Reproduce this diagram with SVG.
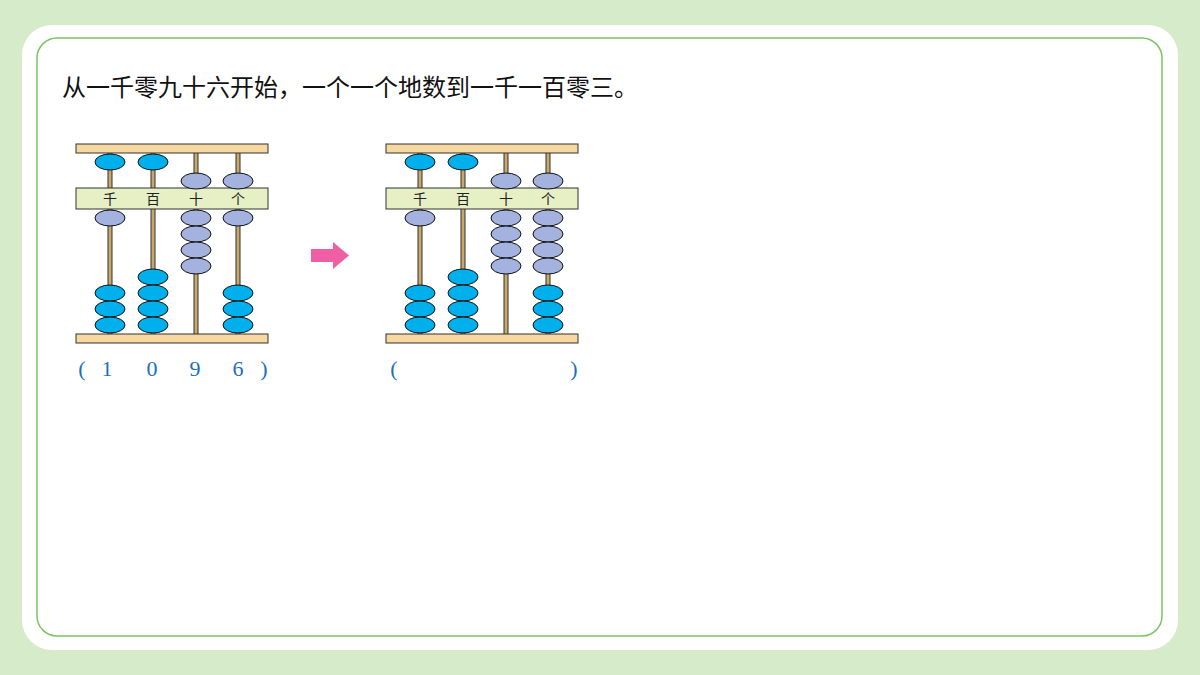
<svg xmlns="http://www.w3.org/2000/svg" width="1200" height="675" viewBox="0 0 1200 675">
<style>
.bar{fill:#f6d8a0;stroke:#333;stroke-width:1}
.lab{fill:#e6f0c4;stroke:#333;stroke-width:1}
.rod{stroke:#c9a868;stroke-width:3}
.rodo{stroke:#333;stroke-width:5}
.b{fill:#00b0ec;stroke:#111;stroke-width:1}
.g{fill:#a3b2de;stroke:#111;stroke-width:1}
.t{font-family:"Noto Sans CJK SC",sans-serif;font-size:14px;fill:#222;text-anchor:middle}
.n{font-family:"Liberation Serif",serif;font-size:22px;fill:#1a6fc0;text-anchor:middle}
</style>
<defs>
<g id="frame">
<g class="rodsg">
<line class="rodo" x1="34" y1="148" x2="34" y2="338"/><line class="rod" x1="34" y1="148" x2="34" y2="338"/>
<line class="rodo" x1="77" y1="148" x2="77" y2="338"/><line class="rod" x1="77" y1="148" x2="77" y2="338"/>
<line class="rodo" x1="120" y1="148" x2="120" y2="338"/><line class="rod" x1="120" y1="148" x2="120" y2="338"/>
<line class="rodo" x1="162" y1="148" x2="162" y2="338"/><line class="rod" x1="162" y1="148" x2="162" y2="338"/>
</g>
<rect class="bar" x="0" y="144" width="192" height="9"/>
<rect class="bar" x="0" y="334" width="192" height="9"/>
<rect class="lab" x="0" y="188" width="192" height="21"/>
<text class="t" x="34" y="204">千</text><text class="t" x="77" y="204">百</text><text class="t" x="120" y="204">十</text><text class="t" x="162" y="204">个</text>
</g>
</defs>
<rect width="1200" height="675" fill="#d5ebc9"/>
<rect x="22" y="25" width="1156" height="625" rx="30" fill="#fff"/>
<rect x="37" y="38" width="1125" height="598" rx="20" fill="none" stroke="#7cc463" stroke-width="1.5"/>
<text x="62" y="96" font-family="Noto Sans CJK SC,sans-serif" font-size="24" fill="#111">从一千零九十六开始，一个一个地数到一千一百零三。</text>
<g id="abacus1" transform="translate(76,0)">
<use href="#frame"/>
<ellipse class="b" cx="34" cy="162" rx="15" ry="8"/><ellipse class="b" cx="77" cy="162" rx="15" ry="8"/>
<ellipse class="g" cx="120" cy="181" rx="15" ry="8"/><ellipse class="g" cx="162" cy="181" rx="15" ry="8"/>
<ellipse class="g" cx="34" cy="218" rx="15" ry="8"/>
<ellipse class="b" cx="34" cy="293" rx="15" ry="8"/><ellipse class="b" cx="34" cy="309" rx="15" ry="8"/><ellipse class="b" cx="34" cy="325" rx="15" ry="8"/>
<ellipse class="b" cx="77" cy="277" rx="15" ry="8"/><ellipse class="b" cx="77" cy="293" rx="15" ry="8"/><ellipse class="b" cx="77" cy="309" rx="15" ry="8"/><ellipse class="b" cx="77" cy="325" rx="15" ry="8"/>
<ellipse class="g" cx="120" cy="218" rx="15" ry="8"/><ellipse class="g" cx="120" cy="234" rx="15" ry="8"/><ellipse class="g" cx="120" cy="250" rx="15" ry="8"/><ellipse class="g" cx="120" cy="266" rx="15" ry="8"/>
<ellipse class="g" cx="162" cy="218" rx="15" ry="8"/>
<ellipse class="b" cx="162" cy="293" rx="15" ry="8"/><ellipse class="b" cx="162" cy="309" rx="15" ry="8"/><ellipse class="b" cx="162" cy="325" rx="15" ry="8"/>
<text class="n" x="6" y="376">(</text><text class="n" x="31" y="376">1</text><text class="n" x="76" y="376">0</text><text class="n" x="119" y="376">9</text><text class="n" x="162" y="376">6</text><text class="n" x="188" y="376">)</text>
</g>
<g id="arrow"><path d="M311 249 H333 V242 L349 255.5 L333 269 V262 H311 Z" fill="#ef5fa3"/></g>
<g id="abacus2" transform="translate(386,0)">
<use href="#frame"/>
<ellipse class="b" cx="34" cy="162" rx="15" ry="8"/><ellipse class="b" cx="77" cy="162" rx="15" ry="8"/>
<ellipse class="g" cx="120" cy="181" rx="15" ry="8"/><ellipse class="g" cx="162" cy="181" rx="15" ry="8"/>
<ellipse class="g" cx="34" cy="218" rx="15" ry="8"/>
<ellipse class="b" cx="34" cy="293" rx="15" ry="8"/><ellipse class="b" cx="34" cy="309" rx="15" ry="8"/><ellipse class="b" cx="34" cy="325" rx="15" ry="8"/>
<ellipse class="b" cx="77" cy="277" rx="15" ry="8"/><ellipse class="b" cx="77" cy="293" rx="15" ry="8"/><ellipse class="b" cx="77" cy="309" rx="15" ry="8"/><ellipse class="b" cx="77" cy="325" rx="15" ry="8"/>
<ellipse class="g" cx="120" cy="218" rx="15" ry="8"/><ellipse class="g" cx="120" cy="234" rx="15" ry="8"/><ellipse class="g" cx="120" cy="250" rx="15" ry="8"/><ellipse class="g" cx="120" cy="266" rx="15" ry="8"/>
<ellipse class="g" cx="162" cy="218" rx="15" ry="8"/><ellipse class="g" cx="162" cy="234" rx="15" ry="8"/><ellipse class="g" cx="162" cy="250" rx="15" ry="8"/><ellipse class="g" cx="162" cy="266" rx="15" ry="8"/>
<ellipse class="b" cx="162" cy="293" rx="15" ry="8"/><ellipse class="b" cx="162" cy="309" rx="15" ry="8"/><ellipse class="b" cx="162" cy="325" rx="15" ry="8"/>
<text class="n" x="8" y="376">(</text><text class="n" x="188" y="376">)</text>
</g>
</svg>
